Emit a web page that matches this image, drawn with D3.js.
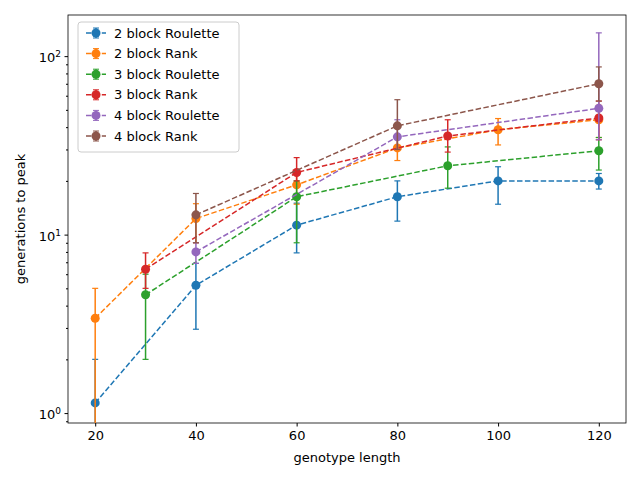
<!DOCTYPE html>
<html><head><meta charset="utf-8">
<script src="https://cdn.jsdelivr.net/npm/d3@7"></script>
<style>body{margin:0;font-family:"DejaVu Sans",sans-serif;}</style>
</head><body><div id="chart"></div>
<script>
const seriesNames = ["2 block Roulette","2 block Rank","3 block Roulette","3 block Rank","4 block Roulette","4 block Rank"];
const colors = ["#1f77b4","#ff7f0e","#2ca02c","#d62728","#9467bd","#8c564b"];
// x, mean, low, high
const rouletteTwo = [[20,1.14,0.5,2],[40,5.2,2.95,6.9],[60,11.3,7.9,15],[80,16.3,11.9,20],[100,20,14.8,24],[120,20,18,22]];
const rankTwo = [[20,3.4,0.5,5],[40,12.3,9,14.9],[60,19,14.8,22],[80,30.6,26,35],[100,38.7,31.8,44.7],[120,44,35,53]];
const rouletteThree = [[30,4.6,2,6],[60,16.3,9,20],[90,24.3,18.2,31],[120,29.5,23,35]];
const rankThree = [[30,6.4,5,7.9],[60,22.3,20,27],[90,35.7,29,44],[120,45,34,56]];
const rouletteFour = [[40,8,6.9,9],[80,35.3,30,44],[120,51,34,135]];
const rankFour = [[40,12.9,9,17],[80,40.7,30,57],[120,70,56,87]];
const allSeries = [rouletteTwo, rankTwo, rouletteThree, rankThree, rouletteFour, rankFour];
const xTicks = [20,40,60,80,100,120];

const W = 640, H = 480;
const margin = {top: 15, right: 14, bottom: 57, left: 68};
const width = W - margin.left - margin.right, height = H - margin.top - margin.bottom;

const svg = d3.select("#chart").append("svg").attr("width", W).attr("height", H)
  .append("g").attr("transform", `translate(${margin.left},${margin.top})`);

const x = d3.scaleLinear().domain([14.6, 125.4]).range([0, width]);
const y = d3.scaleLog().domain([0.88, 170]).range([height, 0]);

svg.append("defs").append("clipPath").attr("id","clip")
  .append("rect").attr("width", width).attr("height", height);

const xAxis = svg.append("g").attr("transform", `translate(0,${height})`)
  .call(d3.axisBottom(x).tickValues(xTicks).tickSize(3.5).tickPadding(4));
xAxis.selectAll("text").style("font-size","13px").style("font-family","DejaVu Sans").attr("fill","#000");

const minor = [];
for (let e = -1; e <= 2; e++) for (let m = 2; m <= 9; m++) {
  const v = m * Math.pow(10, e);
  if (v >= 0.88 && v <= 170) minor.push(v);
}
const yAxis = svg.append("g").call(d3.axisLeft(y).tickValues([1,10,100]).tickSize(3.5).tickFormat(""));
yAxis.selectAll(".tick").append("text").attr("x", -7).attr("dy","0.45em").attr("text-anchor","end")
  .attr("fill","#000").style("font-size","13px").style("font-family","DejaVu Sans")
  .each(function(d) {
    const t = d3.select(this);
    t.append("tspan").text("10");
    t.append("tspan").attr("dy","-0.6em").style("font-size","9px").text(Math.round(Math.log10(d)));
  });
svg.append("g").call(d3.axisLeft(y).tickValues(minor).tickSize(2).tickFormat(""));
svg.selectAll(".domain").remove();
svg.append("rect").attr("width", width).attr("height", height).attr("fill","none").attr("stroke","#000").attr("stroke-width",0.8);

const line = d3.line().x(d => x(d[0])).y(d => y(d[1]));
const plot = svg.append("g").attr("clip-path","url(#clip)");

allSeries.forEach((s, i) => {
  const g = plot.append("g");
  g.append("path").datum(s).attr("fill","none").attr("stroke", colors[i])
    .attr("stroke-width",1.5).attr("stroke-dasharray","5.5,2.4").attr("d", line);
  s.forEach(d => {
    g.append("line").attr("x1", x(d[0])).attr("x2", x(d[0])).attr("y1", y(d[2])).attr("y2", y(d[3]))
      .attr("stroke", colors[i]).attr("stroke-width",1.5);
    [d[2], d[3]].forEach(v => g.append("line").attr("x1", x(d[0]) - 3).attr("x2", x(d[0]) + 3)
      .attr("y1", y(v)).attr("y2", y(v)).attr("stroke", colors[i]).attr("stroke-width",1.2));
    g.append("circle").attr("cx", x(d[0])).attr("cy", y(d[1])).attr("r",4.5).attr("fill", colors[i]);
  });
});

svg.append("text").attr("x", width/2).attr("y", height + 39).attr("text-anchor","middle")
  .style("font-size","13px").text("genotype length");
svg.append("text").attr("transform","rotate(-90)").attr("x", -height/2).attr("y", -43)
  .attr("text-anchor","middle").style("font-size","13px").text("generations to peak");

const legend = svg.append("g").attr("transform","translate(10,7)");
legend.append("rect").attr("width",161).attr("height",130).attr("rx",3)
  .attr("fill","#fff").attr("fill-opacity",0.8).attr("stroke","#ccc");
seriesNames.forEach((n, i) => {
  const gy = 11 + i * 20.6;
  const lg = legend.append("g").attr("transform", `translate(8,${gy})`);
  lg.append("line").attr("x1",0).attr("x2",20).attr("stroke", colors[i]).attr("stroke-width",1.5).attr("stroke-dasharray","5.5,2.4");
  lg.append("line").attr("x1",10).attr("x2",10).attr("y1",-5).attr("y2",5).attr("stroke", colors[i]).attr("stroke-width",1.5);
  lg.append("line").attr("x1",7).attr("x2",13).attr("y1",-5).attr("y2",-5).attr("stroke", colors[i]);
  lg.append("line").attr("x1",7).attr("x2",13).attr("y1",5).attr("y2",5).attr("stroke", colors[i]);
  lg.append("circle").attr("cx",10).attr("r",4.5).attr("fill", colors[i]);
  lg.append("text").attr("x",28).attr("dy","0.35em").style("font-size","13px").text(n);
});
</script></body></html>
